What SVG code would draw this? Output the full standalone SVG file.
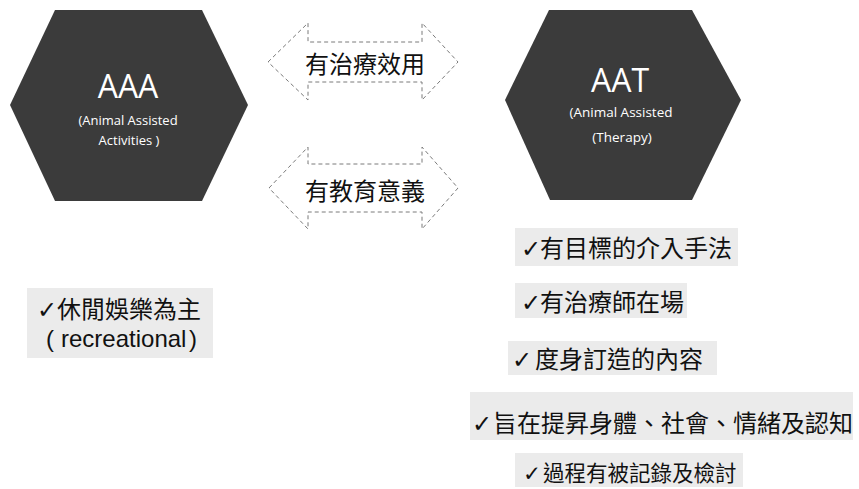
<svg xmlns="http://www.w3.org/2000/svg" width="859" height="489" viewBox="0 0 859 489">
  <style>
    .hex { fill: #3b3b3b; }
    .title { font-family: "Open Sans", "Liberation Sans", sans-serif; font-size: 32px; fill: #ffffff; text-anchor: middle; }
    .sub { font-family: "Open Sans", "Liberation Sans", sans-serif; font-size: 13px; fill: #ffffff; text-anchor: middle; }
    .arrow { fill: none; stroke: #7a7a7a; stroke-width: 1; stroke-dasharray: 4 3; }
    .lbl { font-family: "Noto Sans CJK TC", "Noto Sans CJK SC", sans-serif; font-size: 24px; fill: #111111; text-anchor: middle; }
    .bg { fill: #ebebeb; }
    .item { font-family: "Noto Sans CJK TC", "Noto Sans CJK SC", sans-serif; font-size: 24px; fill: #111111; }
    .lat { font-family: "Liberation Sans", sans-serif; font-size: 24px; fill: #111111; }
    .chk { font-family: "DejaVu Sans", sans-serif; }
  </style>
  <rect width="859" height="489" fill="#ffffff"/>

  <g id="aaa">
    <polygon class="hex" points="55,10 202,10 248,105 202,201 55,201 10,105"/>
    <text class="title" x="128" y="98">AAA</text>
    <text class="sub" x="128" y="125">(Animal Assisted</text>
    <text class="sub" x="129" y="145">Activities )</text>
  </g>

  <g id="aat">
    <polygon class="hex" points="549,10 692,10 741,100 692,200 550,200 505,100"/>
    <text class="title" x="620" y="92">AAT</text>
    <text class="sub" x="621" y="117" style="font-size:13.5px">(Animal Assisted</text>
    <text class="sub" x="622" y="142" style="font-size:13.5px">(Therapy)</text>
  </g>

  <g id="connectors">
    <path class="arrow" d="M268,62 L308,23 L308,42 L422,42 L422,23 L458,62 L422,100 L422,82 L308,82 L308,100 Z"/>
    <path class="arrow" d="M269,188 L308,147 L308,164 L422,164 L422,147 L458,188 L422,229 L422,212 L308,212 L308,229 Z"/>
  </g>

  <g id="label-therapy">
    <text class="lbl" x="365" y="73">有治療效用</text>
  </g>
  <g id="label-education">
    <text class="lbl" x="365" y="200">有教育意義</text>
  </g>

  <g id="aaa-list">
    <rect class="bg" x="27" y="288" width="186" height="70"/>
    <text class="item" y="318"><tspan class="chk" x="37">✓</tspan><tspan x="57">休閒娛樂為主</tspan></text>
    <text class="lat" y="347"><tspan x="46">(</tspan><tspan x="61">recreational</tspan><tspan x="189">)</tspan></text>
  </g>

  <g id="aat-list">
    <g id="item1">
      <rect class="bg" x="515" y="228" width="223" height="38"/>
      <text class="item" y="257"><tspan class="chk" x="521">✓</tspan><tspan x="540">有目標的介入手法</tspan></text>
    </g>
    <g id="item2">
      <rect class="bg" x="515" y="283" width="172" height="35"/>
      <text class="item" y="311"><tspan class="chk" x="521">✓</tspan><tspan x="540">有治療師在場</tspan></text>
    </g>
    <g id="item3">
      <rect class="bg" x="508" y="341" width="209" height="34"/>
      <text class="item" y="368"><tspan class="chk" x="512">✓</tspan><tspan x="535">度身訂造的內容</tspan></text>
    </g>
    <g id="item4">
      <rect class="bg" x="470" y="392" width="383" height="48"/>
      <text class="item" y="432"><tspan class="chk" x="472">✓</tspan><tspan x="493">旨在提昇身體、社會、情緒及認知</tspan></text>
    </g>
    <g id="item5">
      <rect class="bg" x="515" y="453" width="228" height="34"/>
      <text class="item" y="481" style="font-size:21.5px"><tspan class="chk" x="523">✓</tspan><tspan x="543">過程有被記錄及檢討</tspan></text>
    </g>
  </g>
</svg>
